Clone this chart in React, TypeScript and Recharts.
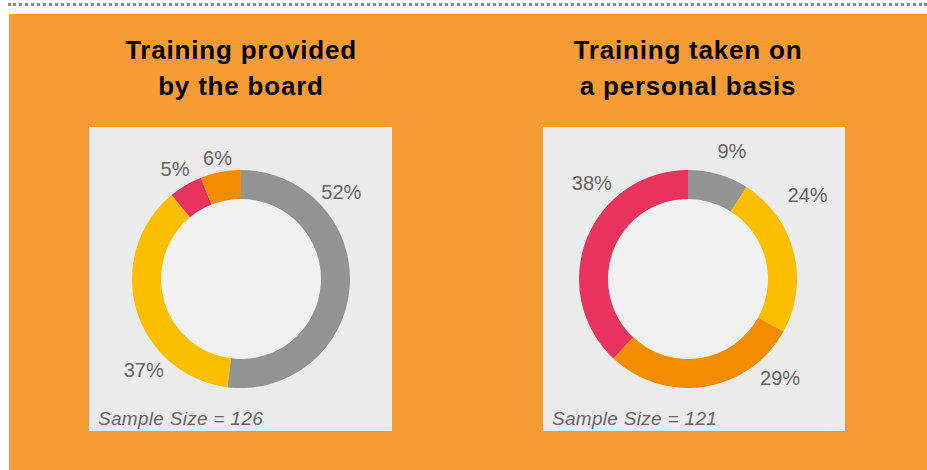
import { Cell, Pie, PieChart } from "recharts";

// slices go clockwise from 12 o'clock
const boardSlices = ["grey", "yellow", "red", "orange"];
const boardValues = [52, 37, 5, 6];
const boardSample = 126;

const personalSlices = ["grey", "yellow", "orange", "red"];
const personalValues = [9, 24, 29, 38];
const personalSample = 121;

const SLICE_COLORS: Record<string, string> = {
  grey: "#939393",
  yellow: "#fbbf00",
  orange: "#f28c00",
  red: "#e8345c",
};

// where the labels sit: angle clockwise from top (deg) and distance from centre
const boardLabelSpots = [
  { angle: 49, dist: 133 },
  { angle: 227, dist: 133 },
  { angle: 329, dist: 128 },
  { angle: 349, dist: 123 },
];
const personalLabelSpots = [
  { angle: 19, dist: 135 },
  { angle: 55, dist: 146 },
  { angle: 137, dist: 135 },
  { angle: 315, dist: 136 },
];

const FONT = "'Liberation Sans', Arial, sans-serif";

interface DonutPanelProps {
  title: string[];
  slices: string[];
  values: number[];
  sample: number;
  labelSpots: { angle: number; dist: number }[];
  left: number;
  boxWidth: number;
  cx: number;
}

function DonutPanel({
  title,
  slices,
  values,
  sample,
  labelSpots,
  left,
  boxWidth,
  cx,
}: DonutPanelProps) {
  const data = slices.map((name, i) => ({ name, value: values[i] }));
  const cy = 152;
  const innerR = 80;
  const outerR = 109;

  const renderLabel = (props: any) => {
    const spot = labelSpots[props.index];
    const a = (spot.angle * Math.PI) / 180;
    const x = props.cx + spot.dist * Math.sin(a);
    const y = props.cy - spot.dist * Math.cos(a);
    return (
      <text
        x={x}
        y={y}
        fill="#666"
        fontSize={20}
        fontFamily={FONT}
        textAnchor="middle"
        dominantBaseline="central"
      >
        {props.value}%
      </text>
    );
  };

  return (
    <>
      <div
        style={{
          position: "absolute",
          left: left + cx - 160,
          top: 18,
          width: 320,
          textAlign: "center",
          fontFamily: FONT,
          fontWeight: 700,
          fontSize: 26,
          letterSpacing: 0.8,
          lineHeight: "36px",
          color: "#000",
        }}
      >
        {title.map((line) => (
          <div key={line}>{line}</div>
        ))}
      </div>

      <div
        style={{
          position: "absolute",
          left,
          top: 113,
          width: boxWidth,
          height: 304,
          background: "#ebebeb",
        }}
      >
        <div
          style={{
            position: "absolute",
            left: cx - innerR - 1,
            top: cy - innerR - 1,
            width: innerR * 2 + 2,
            height: innerR * 2 + 2,
            borderRadius: "50%",
            background: "#f1f1f1",
          }}
        />
        <div style={{ position: "absolute", left: 0, top: 0 }}>
          <PieChart
            width={boxWidth}
            height={304}
            margin={{ top: 0, right: 0, bottom: 0, left: 0 }}
          >
            <Pie
              data={data}
              dataKey="value"
              nameKey="name"
              cx={cx}
              cy={cy}
              innerRadius={innerR}
              outerRadius={outerR}
              startAngle={90}
              endAngle={-270}
              stroke="none"
              label={renderLabel}
              labelLine={false}
              isAnimationActive={false}
            >
              {data.map((d) => (
                <Cell key={d.name} fill={SLICE_COLORS[d.name]} />
              ))}
            </Pie>
          </PieChart>
        </div>
        <div
          style={{
            position: "absolute",
            left: 9,
            top: 281,
            fontFamily: FONT,
            fontStyle: "italic",
            fontSize: 19,
            letterSpacing: 0.3,
            color: "#666",
          }}
        >
          Sample Size = {sample}
        </div>
      </div>
    </>
  );
}

export default function App() {
  return (
    <div
      style={{
        position: "absolute",
        left: 0,
        top: 0,
        width: 927,
        height: 470,
        background: "#fff",
        overflow: "hidden",
      }}
    >
      <div
        style={{
          position: "absolute",
          left: 8,
          top: 3,
          width: 919,
          height: 0,
          borderTop: "3px dotted #8a8a8a",
        }}
      />
      <div
        style={{
          position: "absolute",
          left: 9,
          top: 14,
          width: 918,
          height: 456,
          background: "#f79b34",
        }}
      >
        <DonutPanel
          title={["Training provided", "by the board"]}
          slices={boardSlices}
          values={boardValues}
          sample={boardSample}
          labelSpots={boardLabelSpots}
          left={80}
          boxWidth={303}
          cx={152}
        />
        <DonutPanel
          title={["Training taken on", "a personal basis"]}
          slices={personalSlices}
          values={personalValues}
          sample={personalSample}
          labelSpots={personalLabelSpots}
          left={534}
          boxWidth={302}
          cx={145}
        />
      </div>
    </div>
  );
}
